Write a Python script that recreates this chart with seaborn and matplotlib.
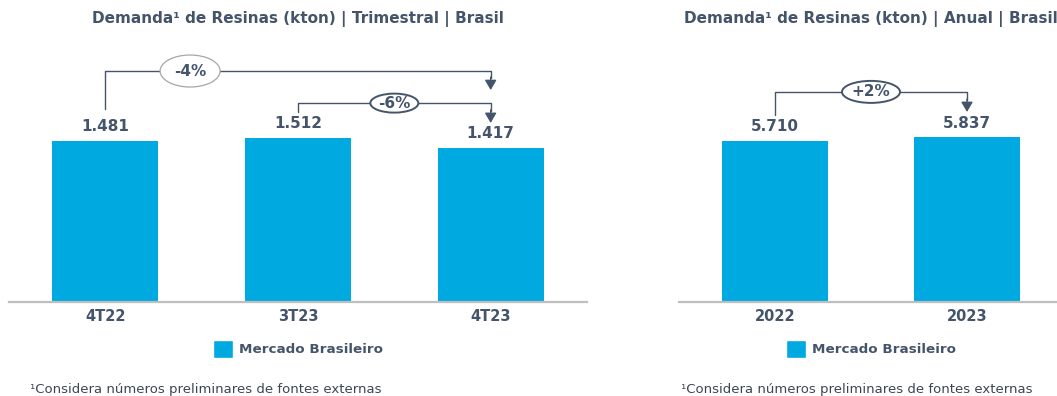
import matplotlib
matplotlib.use("Agg")
import matplotlib.pyplot as plt
import seaborn as sns
from matplotlib.patches import Patch, Ellipse
from matplotlib.transforms import blended_transform_factory

sns.set_style("white")
plt.rcParams["font.family"] = ["DejaVu Sans"]

# Quarterly and annual resin demand, Brazil (kton)
quarters = ["4T22", "3T23", "4T23"]
quarter_values = [1481, 1512, 1417]
years = ["2022", "2023"]
year_values = [5710, 5837]

series_name = "Mercado Brasileiro"
titles = ["Demanda¹ de Resinas (kton) | Trimestral | Brasil",
          "Demanda¹ de Resinas (kton) | Anual | Brasil"]
footnote = "¹Considera números preliminares de fontes externas"

BAR = "#00A9DF"
DARK = "#44546A"
AXIS = "#BFBFBF"


def fmt(v):
    return f"{v:,}".replace(",", ".")


def pct(a, b):
    p = round((b / a - 1) * 100)
    return f"{p:+d}%" if p > 0 else f"{p}%"


def bracket(ax, i, j, y_start, y_top, y_tip, text, ell_x, ell_w, ell_h,
            edge, lw_e):
    tr = blended_transform_factory(ax.transData, ax.transAxes)
    ax.plot([i, i, j, j], [y_start, y_top, y_top, y_tip + 0.045],
            color=DARK, lw=1.0, transform=tr, clip_on=False, zorder=3)
    ax.annotate("", xy=(j, y_tip), xytext=(j, y_tip + 0.05),
                xycoords=tr, textcoords=tr,
                arrowprops=dict(arrowstyle="-|>,head_length=0.6,head_width=0.35",
                                color=DARK, lw=1.0, shrinkA=0, shrinkB=0),
                annotation_clip=False, zorder=4)
    bbox = ax.get_window_extent()
    fig = ax.figure
    w_ax = ell_w / bbox.width * fig.dpi / 100
    h_ax = ell_h / bbox.height * fig.dpi / 100
    x_ax = ax.transAxes.inverted().transform(ax.transData.transform((ell_x, 0)))[0]
    e = Ellipse((x_ax, y_top), w_ax, h_ax, transform=ax.transAxes,
                facecolor="white", edgecolor=edge, lw=lw_e, zorder=5,
                clip_on=False)
    ax.add_patch(e)
    ax.text(x_ax, y_top, text, transform=ax.transAxes, ha="center",
            va="center", fontsize=11, fontweight="bold", color=DARK, zorder=6)


fig = plt.figure(figsize=(10.57, 3.96), dpi=100)
ax1 = fig.add_axes([9 / 1057, 94 / 396, 578 / 1057, 261 / 396])
ax2 = fig.add_axes([679 / 1057, 94 / 396, 384 / 1057, 261 / 396])

panels = [(ax1, quarters, quarter_values, 2400),
          (ax2, years, year_values, 9260)]

for k, (ax, cats, vals, ymax) in enumerate(panels):
    sns.barplot(x=cats, y=vals, ax=ax, color=BAR, width=0.55,
                saturation=1, edgecolor="none")
    ax.set_ylim(0, ymax)
    ax.set_xlim(-0.5, len(cats) - 0.5)
    ax.set_yticks([])
    for s in ["top", "right", "left"]:
        ax.spines[s].set_visible(False)
    ax.spines["bottom"].set_color(AXIS)
    ax.spines["bottom"].set_linewidth(1.6)
    ax.tick_params(axis="x", length=0, pad=5, labelsize=10.5,
                   labelcolor=DARK)
    for lbl in ax.get_xticklabels():
        lbl.set_fontweight("bold")
    for i, v in enumerate(vals):
        ax.annotate(fmt(v), (i, v), xytext=(0, 5), textcoords="offset points",
                    ha="center", va="bottom", fontsize=11,
                    fontweight="bold", color=DARK)
    ax.set_title(titles[k], fontsize=11, fontweight="bold", color=DARK,
                 pad=0, y=1.0 + 18 / 261)
    ax.set_xlabel("")
    ax.set_ylabel("")
    ax.legend(handles=[Patch(facecolor=BAR, label=series_name)],
              loc="center", bbox_to_anchor=(0.5, -47 / 261), frameon=False,
              handlelength=1.5, handleheight=1.6, handletextpad=0.45,
              prop=dict(weight="bold", size=9.7), labelcolor=DARK)

fig.text(30 / 1057, 1 - 389 / 396, footnote, fontsize=9.5, color="#3B4654",
         va="center", ha="left")
fig.text(681 / 1057, 1 - 389 / 396, footnote, fontsize=9.5, color="#3B4654",
         va="center", ha="left")

fig.canvas.draw()

# Quarterly changes
bracket(ax1, 0, 2, 0.738, 0.885, 0.812, pct(quarter_values[0], quarter_values[2]),
        0.44, 60, 32, "#A6A6A6", 0.9)
bracket(ax1, 1, 2, 0.728, 0.762, 0.686, pct(quarter_values[1], quarter_values[2]),
        1.5, 48, 19, DARK, 1.4)
# Annual change
bracket(ax2, 0, 1, 0.716, 0.805, 0.728, pct(year_values[0], year_values[1]),
        0.5, 58, 22, DARK, 1.4)

fig.savefig("out.png", dpi=100)
